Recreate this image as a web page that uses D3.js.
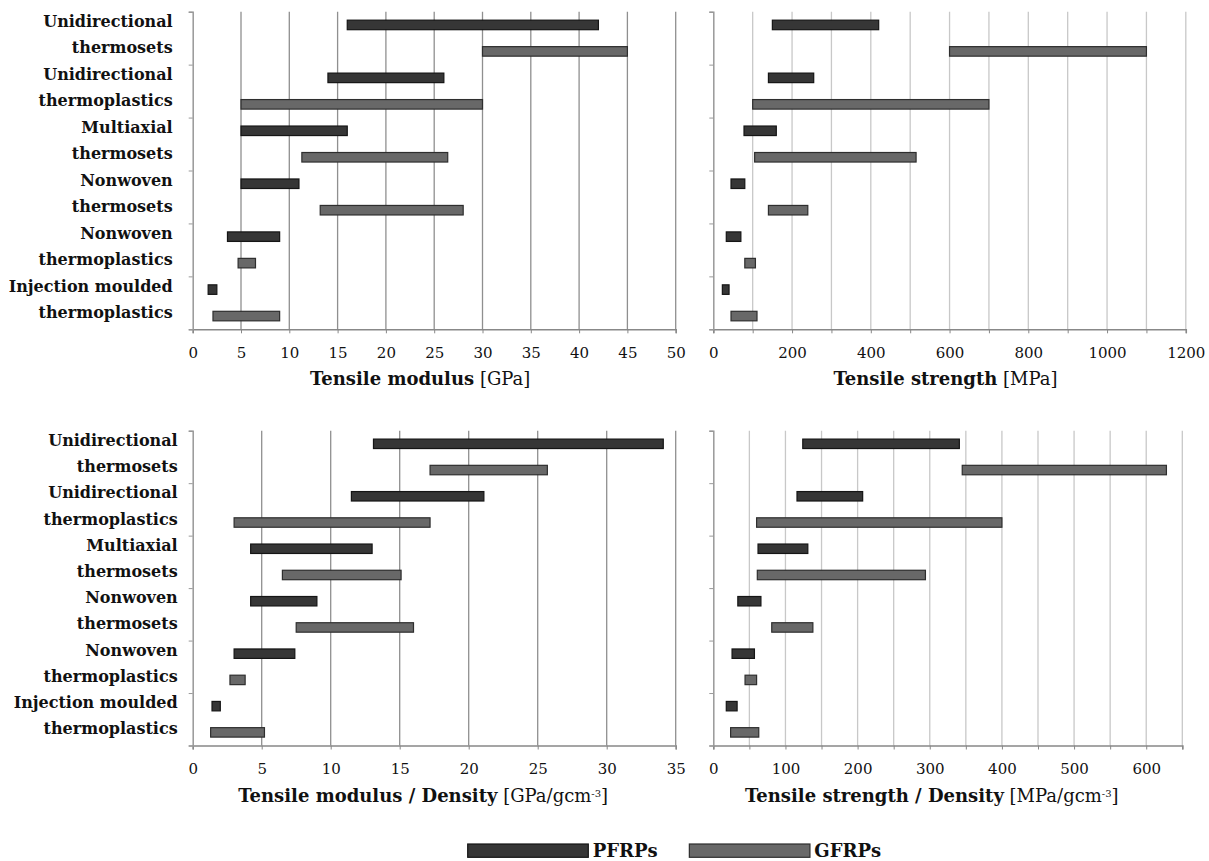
<!DOCTYPE html>
<html>
<head>
<meta charset="utf-8">
<script src="https://cdn.jsdelivr.net/npm/d3@7"></script>
<style>
  body { margin: 0; background: #fff; }
  svg { display: block; font-family: "DejaVu Serif", serif; }
  .cat-label { font-weight: bold; font-size: 16px; fill: #111; }
  .tick text { font-size: 15px; fill: #111; }
  .axis-title { font-size: 18px; fill: #111; }
  .legend-text { font-size: 18px; font-weight: bold; fill: #111; }
</style>
</head>
<body>
<svg id="chart" width="1209" height="861"></svg>
<script>
// categories (two lines each) and series
const categories = [
  ["Unidirectional", "thermosets"],
  ["Unidirectional", "thermoplastics"],
  ["Multiaxial", "thermosets"],
  ["Nonwoven", "thermosets"],
  ["Nonwoven", "thermoplastics"],
  ["Injection moulded", "thermoplastics"]
];
const series = ["PFRPs", "GFRPs"];

// ranges [min, max] per category
const modulusPF = [[16, 42], [14, 26], [5, 16], [5, 11], [3.6, 9], [1.6, 2.5]];
const modulusGF = [[30, 45], [5, 30], [11.3, 26.4], [13.2, 28], [4.7, 6.5], [2.1, 9]];
const strengthPF = [[150, 420], [140, 255], [78, 160], [45, 80], [33, 70], [23, 40]];
const strengthGF = [[600, 1100], [100, 700], [105, 515], [140, 240], [80, 107], [45, 111]];
const specModPF = [[13.1, 34.1], [11.5, 21.1], [4.2, 13], [4.2, 9], [3, 7.4], [1.4, 2]];
const specModGF = [[17.2, 25.7], [3, 17.2], [6.5, 15.1], [7.5, 16], [2.7, 3.8], [1.3, 5.2]];
const specStrPF = [[124, 341], [116, 207], [62, 131], [34, 66], [26, 57], [18, 33]];
const specStrGF = [[345, 628], [60, 400], [61, 294], [81, 138], [44, 60], [24, 63]];

// axis ticks
const modulusTicks = d3.range(0, 51, 5);
const strengthTicks = d3.range(0, 1201, 100);
const specModTicks = d3.range(0, 36, 5);
const specStrTicks = d3.range(0, 651, 50);

const svg = d3.select("#chart");
const colors = { PFRPs: "#363636", GFRPs: "#686868" };
const strokes = { PFRPs: "#151515", GFRPs: "#2e2e2e" };

function panel(opt) {
  const g = svg.append("g");
  const x = d3.scaleLinear().domain(opt.domain).range([opt.x0, opt.x1]);
  const y = d3.scaleBand().domain(d3.range(categories.length)).range([opt.y0, opt.y1]);
  const ys = d3.scaleBand().domain(series).range([0, y.bandwidth()])
    .paddingInner(0.64).paddingOuter(0.32);

  // grid lines
  g.selectAll("line.grid")
    .data(opt.grid.filter(d => d > 0))
    .join("line")
    .attr("class", "grid")
    .attr("x1", d => x(d)).attr("x2", d => x(d))
    .attr("y1", opt.y0).attr("y2", opt.y1)
    .attr("stroke", opt.gridColor)
    .attr("stroke-width", 1.3);

  // x axis
  const xAxis = g.append("g")
    .attr("transform", `translate(0,${opt.y1})`)
    .call(d3.axisBottom(x).tickValues(opt.grid).tickSize(4).tickPadding(14)
      .tickFormat(d => (d % opt.labelStep === 0 ? d : "")))
    .attr("font-family", null)
    .attr("font-size", null);
  xAxis.select(".domain").attr("stroke", "#888").attr("stroke-width", 1.5);
  xAxis.selectAll(".tick line").attr("stroke", "#888");

  // y axis
  const yl = d3.scaleLinear().domain([0, categories.length]).range([opt.y0, opt.y1]);
  const yAxis = g.append("g")
    .attr("transform", `translate(${opt.x0},0)`)
    .call(d3.axisLeft(yl).tickValues(d3.range(categories.length + 1)).tickSize(4).tickFormat(""));
  yAxis.select(".domain").attr("stroke", "#999").attr("stroke-width", 1.5);
  yAxis.selectAll(".tick line").attr("stroke", "#999");

  // bars
  const rows = [];
  categories.forEach((c, i) => {
    rows.push({ cat: i, s: "PFRPs", v: opt.pf[i] });
    rows.push({ cat: i, s: "GFRPs", v: opt.gf[i] });
  });
  g.selectAll("rect.bar")
    .data(rows)
    .join("rect")
    .attr("class", "bar")
    .attr("x", d => x(d.v[0]))
    .attr("width", d => x(d.v[1]) - x(d.v[0]))
    .attr("y", d => y(d.cat) + ys(d.s))
    .attr("height", ys.bandwidth())
    .attr("fill", d => colors[d.s])
    .attr("stroke", d => strokes[d.s])
    .attr("stroke-width", 1.2);

  // category labels
  if (opt.labels) {
    categories.forEach((c, i) => {
      c.forEach((line, k) => {
        g.append("text")
          .attr("class", "cat-label")
          .attr("x", opt.x0 - opt.labelGap)
          .attr("y", y(i) + ys(series[k]) + ys.bandwidth() / 2 + 2)
          .attr("text-anchor", "end")
          .text(line);
      });
    });
  }

  // axis title
  const t = g.append("text")
    .attr("class", "axis-title")
    .attr("x", (opt.x0 + opt.x1) / 2 + opt.titleShift)
    .attr("y", opt.y1 + 56)
    .attr("text-anchor", "middle");
  t.append("tspan").attr("font-weight", "bold").text(opt.title[0]);
  t.append("tspan").text(" " + opt.title[1]);
  if (opt.title[2]) {
    t.append("tspan").attr("font-size", "10px").attr("baseline-shift", "super").text(opt.title[2]);
    t.append("tspan").text("]");
  }
}

panel({ x0: 192.7, x1: 675.7, y0: 11.7, y1: 329.3, domain: [0, 50], grid: modulusTicks, labelStep: 5,
  gridColor: "#8f8f8f", pf: modulusPF, gf: modulusGF, labels: true, labelGap: 20,
  title: ["Tensile modulus", "[GPa]"], titleShift: -14 });
panel({ x0: 713.3, x1: 1185.8, y0: 11.7, y1: 329.3, domain: [0, 1200], grid: strengthTicks, labelStep: 200,
  gridColor: "#c8c8c8", pf: strengthPF, gf: strengthGF, labels: false,
  title: ["Tensile strength", "[MPa]"], titleShift: -4 });
panel({ x0: 192.7, x1: 675.7, y0: 430.7, y1: 745.5, domain: [0, 35], grid: specModTicks, labelStep: 5,
  gridColor: "#8f8f8f", pf: specModPF, gf: specModGF, labels: true, labelGap: 15,
  title: ["Tensile modulus / Density", "[GPa/gcm", "-3"], titleShift: -11 });
panel({ x0: 713.3, x1: 1182.3, y0: 430.7, y1: 745.5, domain: [0, 650], grid: specStrTicks, labelStep: 100,
  gridColor: "#c8c8c8", pf: specStrPF, gf: specStrGF, labels: false,
  title: ["Tensile strength / Density", "[MPa/gcm", "-3"], titleShift: -16 });

// legend
const legend = svg.append("g");
const lx = d3.scaleBand().domain(series).range([467.7, 911]).paddingInner(0);
series.forEach(s => {
  legend.append("rect")
    .attr("x", lx(s)).attr("y", 844)
    .attr("width", 120.6).attr("height", 13.3)
    .attr("fill", colors[s]).attr("stroke", strokes[s]).attr("stroke-width", 1.2);
  legend.append("text")
    .attr("class", "legend-text")
    .attr("x", lx(s) + 125).attr("y", 857)
    .text(s);
});
</script>
</body>
</html>
